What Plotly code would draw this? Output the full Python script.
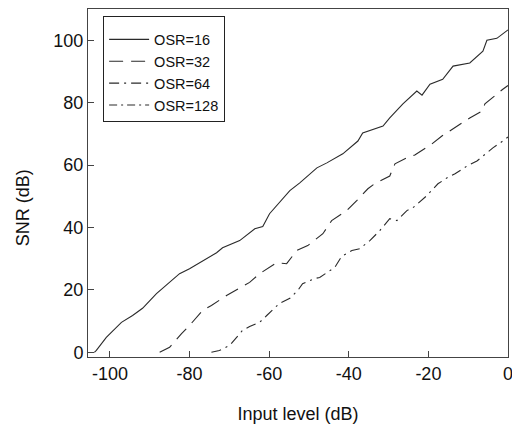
import plotly.graph_objects as go

osr16_x = [-103.9, -103.4, -100.9, -97.1, -94.3, -91.8, -88.3, -85.0, -82.5, -80.0, -76.7, -73.2,
           -71.7, -67.4, -63.6, -61.6, -59.9, -56.9, -54.8, -52.3, -48.0, -45.5, -41.5, -37.7,
           -36.5, -31.4, -29.7, -26.4, -22.9, -21.6, -19.6, -16.4, -13.8, -9.6, -6.3, -5.3, -2.8, 0.0]
osr16_y = [0.0, 0.6, 4.8, 9.6, 11.8, 14.1, 18.8, 22.4, 25.2, 26.8, 29.4, 31.9,
           33.5, 35.8, 39.6, 40.3, 44.4, 48.6, 51.8, 54.3, 59.1, 60.7, 63.6, 67.7,
           70.3, 72.5, 75.1, 79.6, 83.7, 82.4, 85.9, 87.5, 91.7, 92.7, 96.5, 100.0, 100.6, 103.3]

osr32_x = [-87.5, -85.0, -82.0, -80.0, -76.7, -74.5, -70.7, -68.2, -64.9, -62.4, -58.1, -55.6,
           -53.1, -50.3, -46.5, -44.3, -40.5, -38.0, -35.2, -33.5, -29.7, -28.4, -25.4, -23.4,
           -19.1, -16.6, -12.8, -9.6, -6.5, -5.8, -1.3, 0.0]
osr32_y = [0.0, 1.6, 6.0, 8.6, 13.4, 15.0, 18.2, 20.1, 22.4, 25.2, 28.7, 28.4,
           32.6, 34.2, 38.0, 42.2, 45.4, 48.6, 52.4, 54.0, 56.5, 60.4, 62.3, 63.2,
           66.8, 69.3, 72.5, 75.1, 77.3, 79.6, 84.3, 85.5]

osr64_x = [-74.5, -72.5, -69.9, -66.7, -64.9, -62.4, -60.6, -57.4, -54.8, -52.8, -51.6, -48.6,
           -47.3, -43.5, -41.8, -39.2, -37.2, -34.7, -32.2, -29.7, -27.9, -25.4, -23.9, -20.4,
           -17.6, -15.3, -13.3, -10.3, -7.8, -3.8, -1.3, 0.0]
osr64_y = [0.0, 0.6, 2.2, 7.0, 8.3, 9.6, 11.8, 15.7, 17.3, 19.8, 22.0, 23.6,
           24.0, 27.2, 30.7, 32.6, 33.2, 35.8, 39.0, 42.8, 42.2, 45.4, 46.3, 50.2,
           54.0, 55.9, 57.2, 59.7, 61.3, 65.5, 67.7, 69.0]

# OSR=128 curve is not visible in the figure; it appears only in the legend
osr128_x = [None]
osr128_y = [None]

x_ticks = [-100, -80, -60, -40, -20, 0]
y_ticks = [0, 20, 40, 60, 80, 100]

font = "Liberation Sans, Arial, sans-serif"
line_col = "#2a2a2a"

fig = go.Figure()
fig.add_trace(go.Scatter(x=osr16_x, y=osr16_y, mode="lines", name="OSR=16",
                         line=dict(color=line_col, width=1.1)))
fig.add_trace(go.Scatter(x=osr32_x, y=osr32_y, mode="lines", name="OSR=32",
                         line=dict(color=line_col, width=1.1, dash="14px,8px")))
fig.add_trace(go.Scatter(x=osr64_x, y=osr64_y, mode="lines", name="OSR=64",
                         line=dict(color=line_col, width=1.1, dash="10px,5px,2px,5px")))
fig.add_trace(go.Scatter(x=osr128_x, y=osr128_y, mode="lines", name="OSR=128",
                         line=dict(color=line_col, width=1.1, dash="8px,4px,2px,4px")))

fig.update_layout(
    width=512, height=429,
    margin=dict(l=88, r=4, t=9, b=72),
    paper_bgcolor="white", plot_bgcolor="white",
    font=dict(family=font, size=18, color="#111"),
    showlegend=True,
    legend=dict(x=0.036, y=0.98, xanchor="left", yanchor="top",
                bgcolor="white", bordercolor="#222", borderwidth=1,
                font=dict(size=14.5), tracegroupgap=0, itemwidth=40,
                title=dict(text=" ", font=dict(size=5))),
    xaxis=dict(range=[-105.5, 0], tickvals=x_ticks, ticktext=[str(v) for v in x_ticks],
               automargin=False, ticklabeloverflow="allow",
               showgrid=False, zeroline=False, showline=True, mirror=True,
               linecolor="#444", linewidth=1, ticks="inside", ticklen=6, tickcolor="#444",
               title=dict(text="Input level (dB)", font=dict(size=18), standoff=24)),
    yaxis=dict(range=[-1.5, 110], tickvals=y_ticks, ticktext=[str(v) for v in y_ticks],
               automargin=False,
               showgrid=False, zeroline=False, showline=True, mirror=True,
               linecolor="#444", linewidth=1, ticks="inside", ticklen=6, tickcolor="#444"),
    annotations=[dict(text="SNR (dB)", textangle=-90, xref="paper", yref="paper",
                      x=-0.155, y=0.43, xanchor="center", yanchor="middle",
                      showarrow=False, font=dict(size=18))],
)

fig.write_html("out.html", config={"displayModeBar": False},
               post_script="document.body.style.margin='0';document.body.style.overflow='hidden';")
